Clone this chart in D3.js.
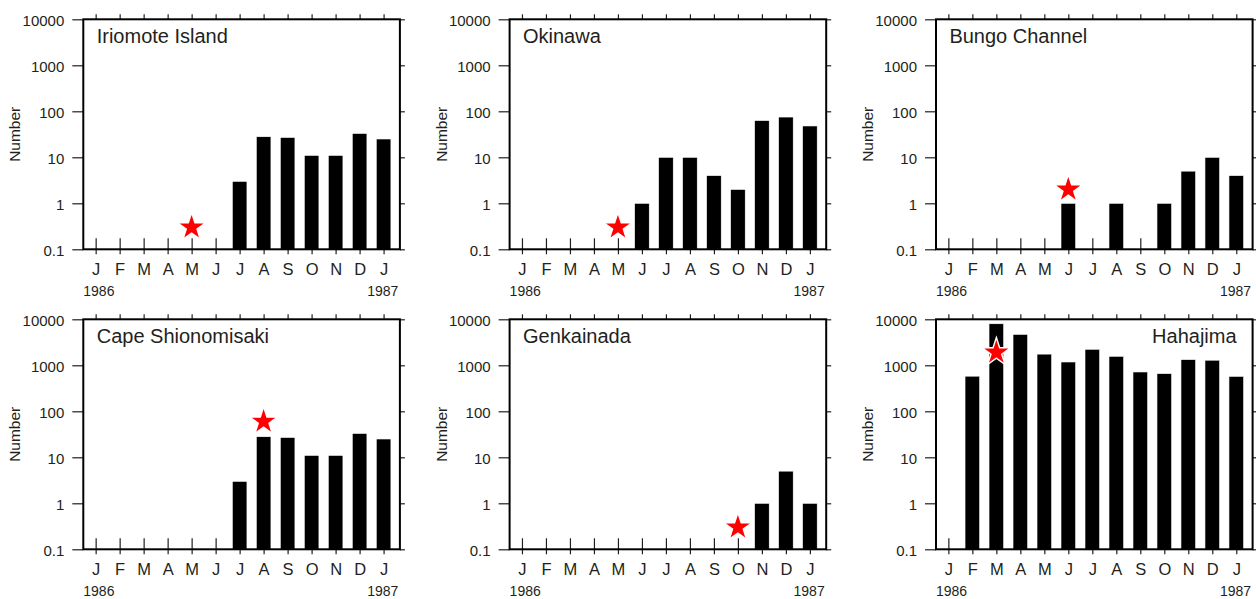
<!DOCTYPE html>
<html>
<head>
<meta charset="utf-8">
<script src="https://cdn.jsdelivr.net/npm/d3@7"></script>
<style>
  body { margin: 0; background: #fff; }
  text { font-family: "Liberation Sans", Arial, Helvetica, sans-serif; fill: #231f20; }
</style>
</head>
<body>
<div id="chart"></div>
<script>
// month ticks, Jan 1986 .. Jan 1987
var months = ["J","F","M","A","M","J","J","A","S","O","N","D","J"];
var yTicks = [0.1, 1, 10, 100, 1000, 10000];
var stations = ["Iriomote Island", "Okinawa", "Bungo Channel", "Cape Shionomisaki", "Genkainada", "Hahajima"];

// monthly numbers (0 = nothing)
var iriomote     = [0, 0, 0, 0, 0, 0, 3, 28, 27, 11, 11, 33, 25];
var okinawa      = [0, 0, 0, 0, 0, 1, 10, 10, 4, 2, 63, 75, 48];
var bungo        = [0, 0, 0, 0, 0, 1, 0, 1, 0, 1, 5, 10, 4];
var shionomisaki = [0, 0, 0, 0, 0, 0, 3, 28, 27, 11, 11, 33, 25];
var genkainada   = [0, 0, 0, 0, 0, 0, 0, 0, 0, 0, 1, 5, 1];
var hahajima     = [0, 580, 8000, 4700, 1750, 1180, 2230, 1570, 716, 660, 1330, 1290, 575];

// red star: month index and value
var starMonth = [4, 4, 5, 7, 9, 2];
var starValue = [0.3, 0.3, 2, 60, 0.3, 1900];

var series = [iriomote, okinawa, bungo, shionomisaki, genkainada, hahajima];

var W = 1256, H = 599;
var pw = 316.6, ph = 230;
var colLeft = [83.3, 509.6, 936];
var rowTop = [19.3, 319.3];

var svg = d3.select("#chart")
  .append("svg")
    .attr("width", W)
    .attr("height", H);

var x = d3.scaleLinear().domain([-0.515, 12.68]).range([0, pw]);
var y = d3.scaleLog().domain([0.1, 10000]).range([ph, 0]);
var barW = x(0.61) - x(0);

series.forEach(function(vals, k) {
  var g = svg.append("g")
    .attr("transform", "translate(" + colLeft[k % 3] + "," + rowTop[Math.floor(k / 3)] + ")");

  // left axis
  g.append("g")
    .call(d3.axisLeft(y).tickValues(yTicks).tickFormat(d3.format("~g")).tickSize(11).tickPadding(8).tickSizeOuter(0))
    .call(function(a) { a.select(".domain").remove(); })
    .call(function(a) {
      a.selectAll("line").attr("stroke", "#231f20").attr("stroke-width", 1.2);
      a.selectAll("text").attr("font-size", "15px").attr("font-family", null).attr("dy", "0.4em");
    });

  // right axis
  g.append("g")
    .attr("transform", "translate(" + pw + ",0)")
    .call(d3.axisRight(y).tickValues(yTicks).tickFormat("").tickSize(5).tickSizeOuter(0))
    .call(function(a) { a.select(".domain").remove(); a.selectAll("line").attr("stroke", "#231f20").attr("stroke-width", 1.2); });

  // top axis
  g.append("g")
    .call(d3.axisTop(x).tickValues(d3.range(13)).tickFormat("").tickSize(5).tickSizeOuter(0))
    .call(function(a) { a.select(".domain").remove(); a.selectAll("line").attr("stroke", "#231f20").attr("stroke-width", 1.2); });

  // bottom axis, outward part + month labels
  g.append("g")
    .attr("transform", "translate(0," + ph + ")")
    .call(d3.axisBottom(x).tickValues(d3.range(13)).tickFormat(function(i) { return months[i]; }).tickSize(5).tickPadding(9).tickSizeOuter(0))
    .call(function(a) {
      a.select(".domain").remove();
      a.selectAll("line").attr("stroke", "#231f20").attr("stroke-width", 1.2);
      a.selectAll("text").attr("font-size", "16.5px").attr("font-family", null);
    });

  // bottom axis, inward part
  g.append("g")
    .attr("transform", "translate(0," + ph + ")")
    .call(d3.axisTop(x).tickValues(d3.range(13)).tickFormat("").tickSize(11).tickSizeOuter(0))
    .call(function(a) { a.select(".domain").remove(); a.selectAll("line").attr("stroke", "#231f20").attr("stroke-width", 1.2); });

  // bars
  g.selectAll("rect.bar")
    .data(vals.map(function(v, i) { return {i: i, v: v}; }).filter(function(d) { return d.v > 0; }))
    .enter()
    .append("rect")
      .attr("class", "bar")
      .attr("x", function(d) { return x(d.i) - barW / 2; })
      .attr("y", function(d) { return y(d.v); })
      .attr("width", barW)
      .attr("height", function(d) { return ph - y(d.v); })
      .attr("fill", "#000")
      .attr("stroke", "#fff")
      .attr("stroke-width", 0.6);

  // frame
  g.append("rect")
    .attr("x", 0).attr("y", 0)
    .attr("width", pw).attr("height", ph)
    .attr("fill", "none")
    .attr("stroke", "#000")
    .attr("stroke-width", 2);

  // star
  g.append("path")
    .attr("transform", "translate(" + x(starMonth[k]) + "," + y(starValue[k]) + ")")
    .attr("d", d3.symbol().type(d3.symbolStar).size(250))
    .attr("fill", "#ff0000")
    .attr("stroke", "#fff")
    .attr("stroke-width", 1.5);

  // station name
  var right = (k == 5);
  g.append("text")
    .attr("x", right ? pw - 16 : 13.4)
    .attr("y", 24)
    .attr("text-anchor", right ? "end" : "start")
    .attr("font-size", "20px")
    .text(stations[k]);

  // years
  g.append("text").attr("x", 0).attr("y", ph + 46.5).attr("font-size", "14px").text("1986");
  g.append("text").attr("x", pw - 1.5).attr("y", ph + 46.5).attr("text-anchor", "end").attr("font-size", "14px").text("1987");

  // y title
  g.append("text")
    .attr("transform", "translate(" + (-63) + "," + (ph / 2) + ") rotate(-90)")
    .attr("text-anchor", "middle")
    .attr("font-size", "15.5px")
    .text("Number");
});
</script>
</body>
</html>
